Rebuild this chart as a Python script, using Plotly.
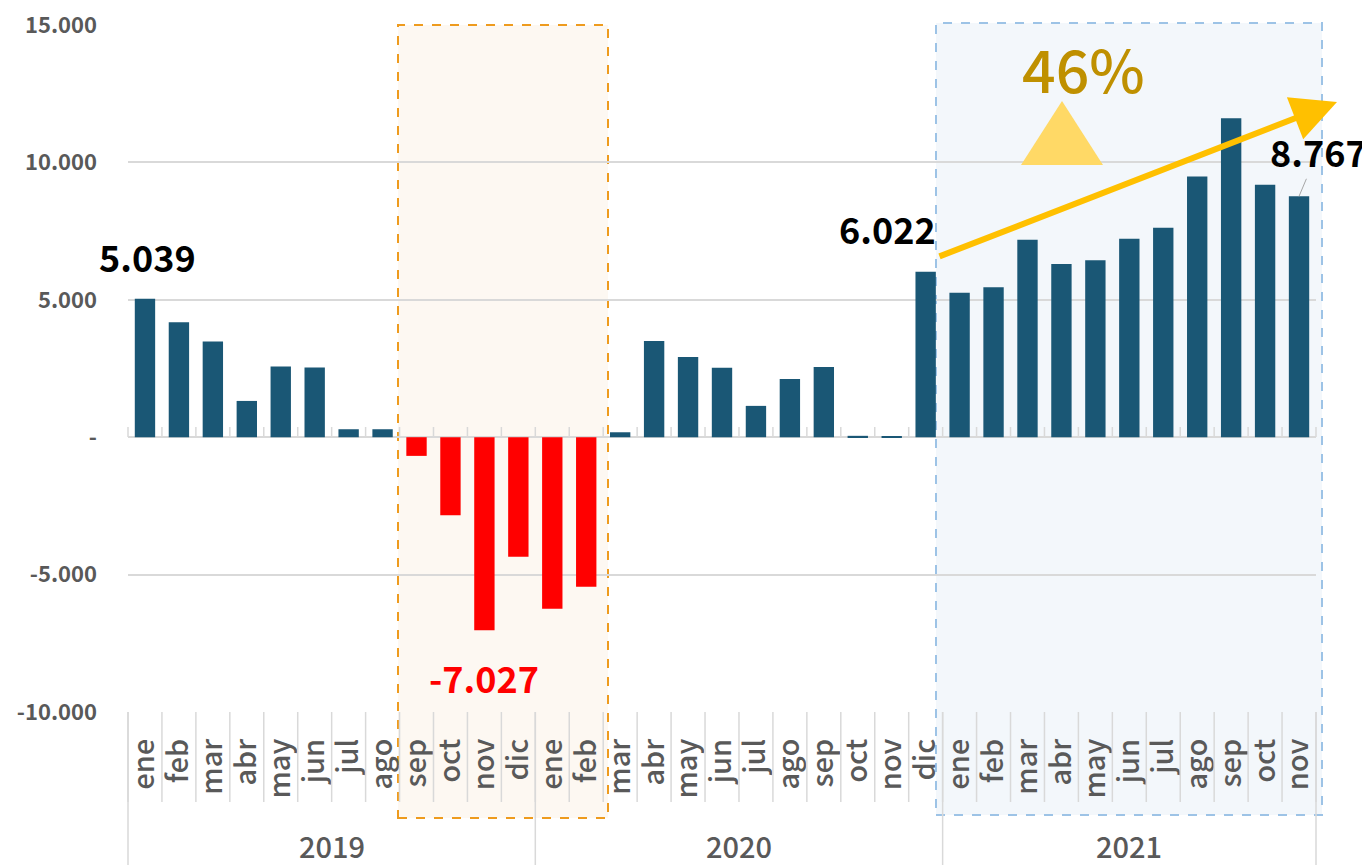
import plotly.graph_objects as go

# ---------------- data ----------------
months = ["ene", "feb", "mar", "abr", "may", "jun", "jul", "ago", "sep", "oct", "nov", "dic"]
years = ["2019", "2020", "2021"]
months_per_year = [12, 12, 11]

values_2019 = [5039, 4180, 3480, 1320, 2570, 2540, 290, 290, -680, -2840, -7027, -4350]
values_2020 = [-6240, -5440, 180, 3500, 2920, 2530, 1140, 2120, 2555, 50, 15, 6022]
values_2021 = [5260, 5455, 7190, 6300, 6436, 7225, 7625, 9490, 11610, 9190, 8767]

ytick_vals = [-10000, -5000, 0, 5000, 10000, 15000]
ytick_text = ["-10.000", "-5.000", "-", "5.000", "10.000", "15.000"]

labels_idx = {0: "5.039", 23: "6.022", 34: "8.767", 10: "-7.027"}

# ---------------- build ----------------
values = values_2019 + values_2020 + values_2021
cat_labels = []
for n in months_per_year:
    cat_labels += months[:n]
N = len(values)
x = list(range(N))

BLUE = "#1a5775"
RED = "#ff0000"
GRAY_TXT = "#595959"
GRID = "#d9d9d9"
FONT_M = "Noto Sans CJK JP Medium, Noto Sans CJK JP, sans-serif"
FONT = "Noto Sans CJK JP, sans-serif"

colors = [RED if v < 0 else BLUE for v in values]

fig = go.Figure()
fig.add_trace(go.Bar(x=x, y=values, marker=dict(color=colors, line=dict(width=0)),
                     width=0.6, hoverinfo="skip"))

# page body has an 8px margin: size the figure so that the plot lands where intended
OFF = 8
SW, SH = 1370, 865          # screen
L, R, T, B = 128, 54, 25, 153   # plot area in screen pixels (from edges)
W, H = SW - OFF, SH - OFF
pw, ph = SW - L - R, SH - T - B


def px_x(p):
    return (p - L) / pw


def px_y(p):
    return (SH - B - p) / ph


shapes = []
# highlighted regions
shapes.append(dict(type="rect", xref="paper", yref="paper", layer="below",
                   x0=px_x(398), x1=px_x(608), y0=px_y(818), y1=px_y(25),
                   fillcolor="#fdf8f2", line=dict(color="#ee9b1e", width=2, dash="dash")))
shapes.append(dict(type="rect", xref="paper", yref="paper", layer="below",
                   x0=px_x(936), x1=px_x(1322), y0=px_y(815), y1=px_y(23),
                   fillcolor="#f3f7fb", line=dict(color="#9dc3e6", width=2, dash="dash")))

# category separators in label area and ticks on zero line
for k in range(N + 1):
    xp = k / N
    shapes.append(dict(type="line", xref="paper", yref="paper", layer="above",
                       x0=xp, x1=xp, y0=0, y1=px_y(802), line=dict(color=GRID, width=1.5)))
    shapes.append(dict(type="line", xref="paper", yref="paper", layer="below",
                       x0=xp, x1=xp, y0=px_y(437), y1=px_y(427), line=dict(color=GRID, width=1.5)))
# year dividers
start = 0
bounds = [0]
for n in months_per_year:
    start += n
    bounds.append(start)
for b in bounds:
    shapes.append(dict(type="line", xref="paper", yref="paper", layer="above",
                       x0=b / N, x1=b / N, y0=0, y1=px_y(866), line=dict(color=GRID, width=1.5)))
# triangle
shapes.append(dict(type="path", xref="paper", yref="paper", layer="above",
                   path=f"M {px_x(1062)} {px_y(101)} L {px_x(1103)} {px_y(165)} L {px_x(1021)} {px_y(165)} Z",
                   fillcolor="#ffd966", line=dict(width=0)))

annotations = []
# year labels
for i, yr in enumerate(years):
    xc = (bounds[i] + bounds[i + 1]) / 2 / N
    annotations.append(dict(text=yr, xref="paper", yref="paper", x=xc, y=px_y(845),
                            showarrow=False, font=dict(family=FONT_M, size=29, color=GRAY_TXT, weight=500),
                            xanchor="center", yanchor="middle"))

# data labels
LBL = dict(family=FONT, size=36, color="#000000", weight="bold")
annotations.append(dict(text=labels_idx[0], x=0, y=values[0], xref="x", yref="y", showarrow=False,
                        yanchor="bottom", yshift=15, xshift=3, font=LBL))
annotations.append(dict(text=labels_idx[23], x=23, y=values[23], xref="x", yref="y", showarrow=False,
                        yanchor="bottom", yshift=16, xshift=-38, font=LBL))
annotations.append(dict(text=labels_idx[10], x=10, y=values[10], xref="x", yref="y", showarrow=False,
                        yanchor="top", yshift=-19, font=dict(LBL, color=RED)))
annotations.append(dict(text=labels_idx[34], x=34, y=values[34], xref="x", yref="y", showarrow=True,
                        arrowhead=0, arrowwidth=1, arrowcolor="#a6a6a6", ax=19, ay=-45, font=LBL))
# 46 %
annotations.append(dict(text="46%", xref="paper", yref="paper", x=px_x(1083), y=px_y(68),
                        showarrow=False, xanchor="center", yanchor="middle",
                        font=dict(family=FONT_M, size=59, color="#bf9000", weight=500)))
# trend arrow
annotations.append(dict(text="", xref="paper", yref="paper", x=px_x(1337), y=px_y(102),
                        ax=938 - 1337, ay=257 - 102,
                        showarrow=True, arrowhead=2, arrowsize=1.5, arrowwidth=6,
                        arrowcolor="#ffc000"))

fig.update_layout(
    width=W, height=H,
    margin=dict(l=L - OFF, r=R, t=T - OFF, b=B, pad=0, autoexpand=False),
    plot_bgcolor="rgba(0,0,0,0)", paper_bgcolor="#ffffff",
    showlegend=False,
    bargap=0.4,
    shapes=shapes,
    annotations=annotations,
    xaxis=dict(range=[-0.5, N - 0.5], tickvals=x, ticktext=cat_labels, tickangle=-90,
               showgrid=False, zeroline=False, showline=False, ticks="",
               ticklabelstandoff=20, automargin=False,
               tickfont=dict(family=FONT_M, size=29, color=GRAY_TXT, weight=500),
               fixedrange=True),
    yaxis=dict(range=[-10000, 15000.5], tickvals=ytick_vals, ticktext=ytick_text,
               showgrid=True, gridcolor=GRID, gridwidth=1.5,
               zeroline=True, zerolinecolor=GRID, zerolinewidth=1.5,
               showline=False, ticks="", ticklabelstandoff=30, automargin=False,
               ticklabeloverflow="allow",
               tickfont=dict(family=FONT, size=22, color=GRAY_TXT, weight="bold"),
               fixedrange=True),
)

fig.write_html("out.html")
